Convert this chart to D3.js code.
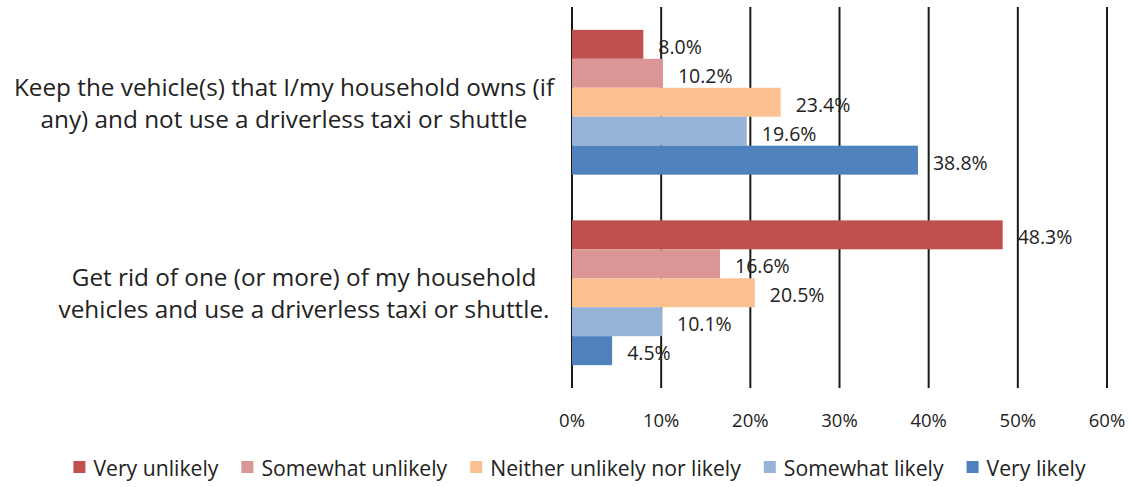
<!DOCTYPE html>
<html>
<head>
<meta charset="utf-8">
<script src="https://cdn.jsdelivr.net/npm/d3@7"></script>
<style>
  body { margin: 0; background: #fff; }
  svg { display: block; font-family: "Open Sans", Lato, sans-serif; }
</style>
</head>
<body>
<div id="chart"></div>
<script>
// categories (top to bottom)
const categories = [
  ["Keep the vehicle(s) that I/my household owns (if", "any) and not use a driverless taxi or shuttle"],
  ["Get rid of one (or more) of my household", "vehicles and use a driverless taxi or shuttle."]
];
const seriesNames = ["Very unlikely", "Somewhat unlikely", "Neither unlikely nor likely", "Somewhat likely", "Very likely"];
const seriesColors = ["#C0504D", "#D99694", "#FAC090", "#95B3D7", "#4F81BD"];
// values per category, in series order
const keepValues = [8.0, 10.2, 23.4, 19.6, 38.8];
const getRidValues = [48.3, 16.6, 20.5, 10.1, 4.5];
const tickValues = [0, 10, 20, 30, 40, 50, 60];

const W = 1133, H = 487;
const svg = d3.select('#chart').append('svg')
  .attr('width', W)
  .attr('height', H);

const x = d3.scaleLinear().domain([0, 60]).range([572, 1107]);
const y = d3.scaleBand()
  .domain(d3.range(categories.length))
  .range([7, 388])
  .paddingInner(0.24)
  .paddingOuter(0.12);
const ySub = d3.scaleBand()
  .domain(seriesNames)
  .range([0, y.bandwidth()]);

const rows = [keepValues, getRidValues];
// horizontal centre of each wrapped category label
const labelCenters = [284, 304];

// Vertical gridlines
svg.append('g')
  .selectAll('line')
  .data(tickValues)
  .enter().append('line')
  .attr('x1', d => x(d))
  .attr('x2', d => x(d))
  .attr('y1', 7)
  .attr('y2', 388)
  .attr('stroke', '#1a1a1a')
  .attr('stroke-width', 2);

// Bars
const groups = svg.append('g')
  .selectAll('g')
  .data(rows)
  .enter().append('g')
  .attr('transform', (d, i) => `translate(0,${y(i)})`);

groups.selectAll('rect')
  .data(d => d.map((v, j) => ({ v: v, s: seriesNames[j], c: seriesColors[j] })))
  .enter().append('rect')
  .attr('x', x(0))
  .attr('y', d => ySub(d.s))
  .attr('width', d => x(d.v) - x(0))
  .attr('height', ySub.bandwidth())
  .attr('fill', d => d.c);

// Value labels
groups.selectAll('text')
  .data(d => d.map((v, j) => ({ v: v, s: seriesNames[j] })))
  .enter().append('text')
  .attr('x', d => x(d.v) + 15)
  .attr('y', d => ySub(d.s) + ySub.bandwidth() / 2 + 2)
  .attr('dominant-baseline', 'central')
  .attr('font-size', 19.5)
  .attr('fill', '#222')
  .text(d => d.v.toFixed(1) + '%');

// Category labels
svg.append('g')
  .selectAll('text')
  .data(categories)
  .enter().append('text')
  .attr('text-anchor', 'middle')
  .attr('font-size', 24.3)
  .attr('fill', '#222')
  .each(function(lines, i) {
    const cy = y(i) + y.bandwidth() / 2;
    d3.select(this).selectAll('tspan')
      .data(lines)
      .enter().append('tspan')
      .attr('x', labelCenters[i])
      .attr('y', (l, k) => cy + (k - 0.5) * 32)
      .attr('dominant-baseline', 'central')
      .text(l => l);
  });

// X axis tick labels
svg.append('g')
  .selectAll('text')
  .data(tickValues)
  .enter().append('text')
  .attr('x', d => x(d))
  .attr('y', 419)
  .attr('text-anchor', 'middle')
  .attr('dominant-baseline', 'central')
  .attr('font-size', 18.5)
  .attr('fill', '#222')
  .text(d => d + '%');

// Legend
const legend = svg.append('g');
const items = legend.selectAll('g')
  .data(seriesNames)
  .enter().append('g');
items.append('rect')
  .attr('width', 12)
  .attr('height', 12)
  .attr('y', -6)
  .attr('fill', (d, i) => seriesColors[i]);
items.append('text')
  .attr('x', 20)
  .attr('dominant-baseline', 'central')
  .attr('font-size', 21.2)
  .attr('fill', '#222')
  .text(d => d);

let lx = 0;
items.each(function() {
  const w = this.querySelector('text').getComputedTextLength() + 20;
  d3.select(this).attr('transform', `translate(${lx},0)`);
  lx += w + 23;
});
lx -= 23;
legend.attr('transform', `translate(${(72 + 1087) / 2 - lx / 2},467)`);
</script>
</body>
</html>
